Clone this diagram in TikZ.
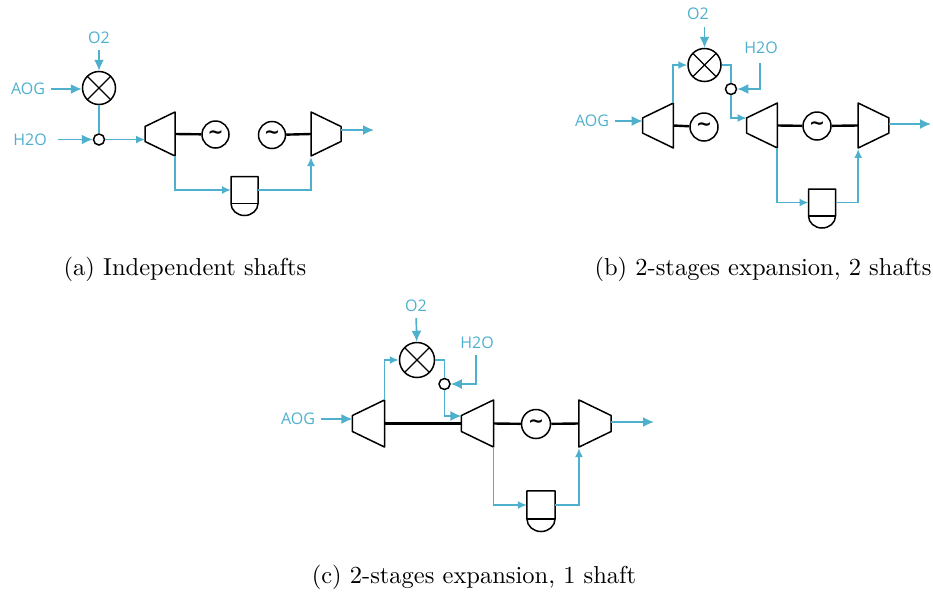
\documentclass[tikz,border=0pt]{standalone}
\usepackage{fontspec}
\usepackage{tikz}
\usetikzlibrary{arrows.meta, positioning, calc}
\newfontfamily\labelfont{Open Sans}
\newfontfamily\wavefont{DejaVu Sans}
\newfontfamily\capfont{lmroman10-regular}[Extension=.otf]
\newcommand{\wave}{{\wavefont\bfseries\char`\~}}
\definecolor{flowblue}{HTML}{4FB0CE}
\tikzset{
  pipe/.style={flowblue, line width=1.7},
  flow/.style={pipe, -{Latex[length=9,width=8]}},
  feed/.style={pipe, -{Latex[length=11,width=10]}},
  shaft/.style={line width=2.4},
  unitline/.style={line width=1.5, line join=round},
  stream/.style={font=\labelfont\fontsize{16}{18}\selectfont, text=flowblue, inner sep=6pt},
  mixer/.style={circle, draw, line width=1.5, inner sep=0, minimum size=#1,
    path picture={
      \draw[line width=1.3] (path picture bounding box.north west) -- (path picture bounding box.south east);
      \draw[line width=1.3] (path picture bounding box.south west) -- (path picture bounding box.north east);
    }},
  generator/.style={circle, draw, line width=1.5, inner sep=0, minimum size=#1,
    font=\fontsize{19}{19}\selectfont},
  splitter/.style={circle, draw, fill=white, line width=1.5, inner sep=0, minimum size=11},
  subcaption/.style={font=\capfont\fontsize{24.5}{28}\selectfont, inner sep=0},
  compressor/.pic={
    \draw[unitline] (-15,-7.5) -- (15,-22) -- (15,22) -- (-15,7.5) -- cycle;
    \coordinate (-in) at (-15,0);
    \coordinate (-shaft) at (15,0);
    \coordinate (-top) at (15,-22);
    \coordinate (-bot) at (15,22);
  },
  turbine/.pic={
    \draw[unitline] (-15,-22) -- (15,-7.5) -- (15,7.5) -- (-15,22) -- cycle;
    \coordinate (-shaft) at (-15,0);
    \coordinate (-out) at (15,0);
    \coordinate (-bot) at (-15,23);
  },
  vessel/.pic={
    \draw[unitline] (-13.5,13.5) -- (-13.5,-13.5) -- (13.5,-13.5) -- (13.5,13.5)
      arc[start angle=0, end angle=180, x radius=13.5, y radius=12] -- cycle;
    \draw[unitline] (-13.5,13.5) -- (13.5,13.5);
    \coordinate (-in) at (-13.5,0);
    \coordinate (-out) at (13.5,0);
  },
}
\begin{document}
\begin{tikzpicture}[x=1pt, y=-1pt]
  \useasboundingbox (0,0) rectangle (933,592);

  % (a) two independent shafts
  \node[stream] (o2a) at (99,38) {O2};
  \node[stream] (aoga) at (28,89) {AOG};
  \node[stream] (h2oa) at (30,139.5) {H2O};
  \node[mixer=33] (mixa) at (99,88) {};
  \node[splitter] (splita) at (99,139.5) {};
  \pic (compa) at (160,134) {compressor};
  \pic (turba) at (326,134) {turbine};
  \pic (vesa) at (244.5,190) {vessel};
  \node[generator=27] (gena) at (215.5,134.5) {\wave};
  \node[generator=27] (genb) at (272,135) {\wave};
  \coordinate (outa) at (374,130);
  \draw[shaft] (compa-shaft) -- (gena);
  \draw[shaft] (genb) -- (turba-shaft);
  \draw[feed] (o2a) -- (mixa);
  \draw[feed] (aoga) -- (aoga -| mixa.west);
  \draw[feed, shorten <=5pt] (h2oa) -- (splita);
  \draw[pipe] (mixa) -- (splita);
  \draw[flow] (splita) -- (splita -| compa-in);
  \draw[flow] (compa-bot) |- (vesa-in);
  \draw[flow] (vesa-out) -| (turba-bot);
  \draw[feed] (outa -| turba-out) -- (outa);

  % (b) two expansion stages, two shafts
  \node[stream] (o2b) at (698,14) {O2};
  \node[stream] (aogb) at (592,121) {AOG};
  \node[stream] (h2ob) at (761,48) {H2O};
  \node[mixer=33] (mixb) at (704.5,65) {};
  \node[splitter] (splitb) at (731,89) {};
  \pic[scale=1.02] (compb) at (658,125.5) {compressor};
  \pic[scale=1.02] (compc) at (762,125.5) {compressor};
  \pic[scale=1.02] (turbb) at (873.5,125.5) {turbine};
  \pic (vesb) at (822,202.5) {vessel};
  \node[generator=28] (genc) at (704,127) {\wave};
  \node[generator=28] (gend) at (817,126) {\wave};
  \coordinate (outb) at (931,124);
  \draw[shaft] (compb-shaft) -- (genc);
  \draw[shaft] (compc-shaft) -- (gend);
  \draw[shaft] (gend) -- (turbb-shaft);
  \draw[feed] (aogb) -- (aogb -| compb-in);
  \draw[feed] (o2b.east -| mixb) ++(0,13) -- (mixb);
  \draw[flow] (compb-top) |- (mixb);
  \draw[pipe] (mixb) -| (splitb);
  \draw[feed, shorten <=3pt] (h2ob.south -| 760,0) |- (splitb);
  \draw[flow] (splitb) |- (compc-in |- 0,118);
  \draw[flow] (compc-bot) |- (vesb-in);
  \draw[flow] (vesb-out) -| (turbb-bot);
  \draw[feed] (outb -| turbb-out) -- (outb);

  % (c) two expansion stages, one shaft
  \node[stream] (o2c) at (416,306) {O2};
  \node[stream] (aogc) at (298,419) {AOG};
  \node[stream] (h2oc) at (477,343) {H2O};
  \node[mixer=35] (mixc) at (417,360) {};
  \node[splitter] (splitc) at (444.5,384) {};
  \pic[scale=1.07] (compd) at (368.5,423.5) {compressor};
  \pic[scale=1.07] (compe) at (477.5,423.5) {compressor};
  \pic[scale=1.07] (turbc) at (595,423.5) {turbine};
  \pic[scale=1.04] (vesc) at (541,505) {vessel};
  \node[generator=29] (gene) at (536,424) {\wave};
  \coordinate (outc) at (654,422);
  \draw[shaft] (compd-shaft) -- (compe-in);
  \draw[shaft] (compe-shaft) -- (gene);
  \draw[shaft] (gene) -- (turbc-shaft);
  \draw[feed] (aogc) -- (aogc -| compd-in);
  \draw[feed] (o2c) -- (mixc);
  \draw[flow] (compd-top) |- (mixc);
  \draw[pipe] (mixc) -| (splitc);
  \draw[feed] (h2oc.south -| 476,0) |- (splitc);
  \draw[feed] (splitc) |- (compe-in |- 0,416);
  \draw[flow] (compe-bot) |- (vesc-in);
  \draw[flow] (vesc-out) -| (turbc-bot);
  \draw[feed] (outc -| turbc-out) -- (outc);

  % captions
  \node[subcaption] (capa) at (185,269.5) {(a) Independent shafts};
  \node[subcaption] (capb) at (763,269.5) {(b) 2-stages expansion, 2 shafts};
  \node[subcaption] (capc) at (474,577.5) {(c) 2-stages expansion, 1 shaft};
\end{tikzpicture}
\end{document}
